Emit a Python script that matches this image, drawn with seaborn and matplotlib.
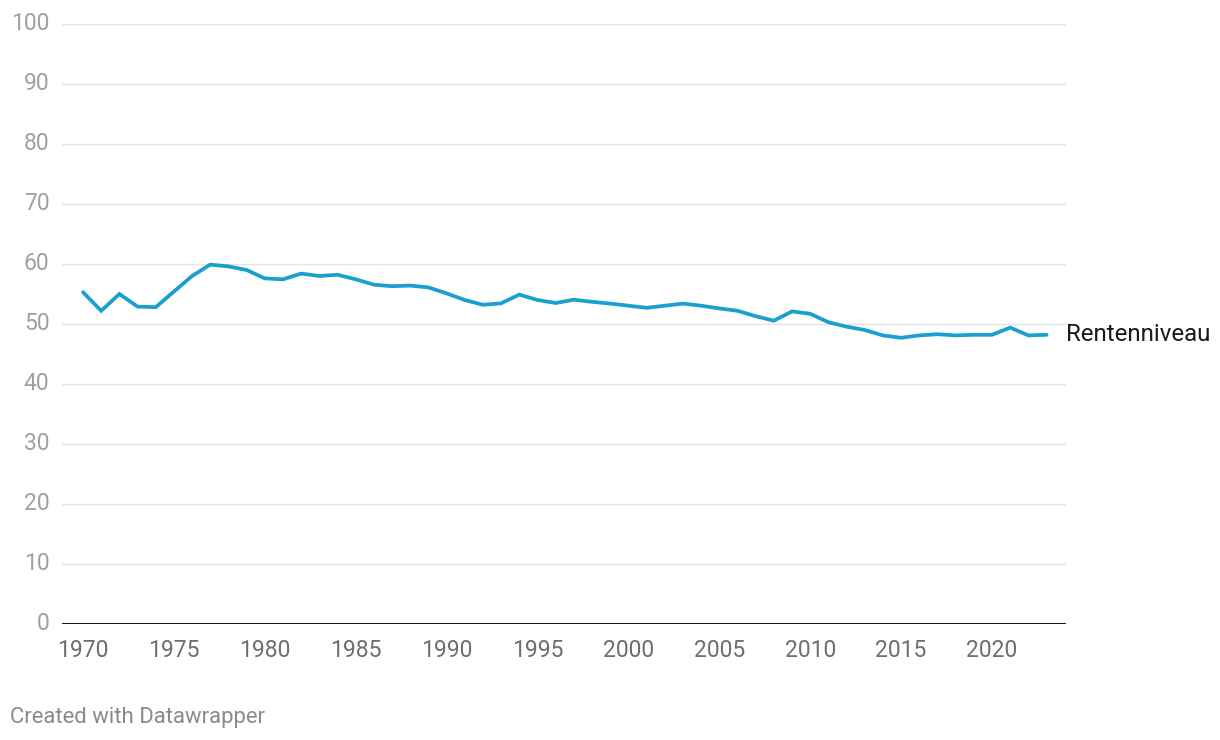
import matplotlib
matplotlib.use("Agg")
import matplotlib.pyplot as plt
import seaborn as sns
import pandas as pd

years = list(range(1970, 2024))
rentenniveau = [55.3, 52.2, 55.0, 52.9, 52.8, 55.4, 58.0, 59.9, 59.6, 59.0,
                57.6, 57.45, 58.4, 58.0, 58.2, 57.45, 56.55, 56.3, 56.4, 56.1,
                55.1, 54.0, 53.2, 53.45, 54.9, 54.0, 53.5, 54.05, 53.7, 53.4,
                53.05, 52.7, 53.05, 53.4, 53.05, 52.6, 52.2, 51.3, 50.55, 52.1,
                51.7, 50.3, 49.55, 49.0, 48.1, 47.7, 48.1, 48.3, 48.1, 48.2,
                48.2, 49.4, 48.1, 48.2]
series_label = "Rentenniveau"
y_ticks = list(range(0, 101, 10))
x_ticks = list(range(1970, 2021, 5))
credit = "Created with Datawrapper"

df = pd.DataFrame({"year": years, "value": rentenniveau})

sns.set_theme(style="white")
plt.rcParams["font.family"] = ["Roboto", "DejaVu Sans"]

fig = plt.figure(figsize=(12.2, 7.4), dpi=100)
ax = fig.add_axes([62 / 1220, 1 - 624 / 740, (1066 - 62) / 1220, 600 / 740])

sns.lineplot(data=df, x="year", y="value", ax=ax, color="#1aa0d0",
             linewidth=2.7, solid_joinstyle="miter", zorder=3)

ax.set_xlim(1968.845, 2024.07)
ax.set_ylim(0, 100)
ax.set_yticks(y_ticks)
ax.set_xticks(x_ticks)
ax.set_xticklabels([str(t) for t in x_ticks])
ax.set_yticklabels([str(t) for t in y_ticks])
for t in y_ticks:
    if t == 0:
        ax.axhline(t, color="#1a1a1a", linewidth=1.5, zorder=4)
    else:
        ax.axhline(t, color="#e3e3e3", linewidth=1.0, zorder=1)

for s in ax.spines.values():
    s.set_visible(False)
ax.set_xlabel("")
ax.set_ylabel("")
ax.tick_params(axis="y", length=0, pad=9, labelsize=16.5, labelcolor="#a0a0a0")
ax.tick_params(axis="x", length=0, pad=11, labelsize=16.5, labelcolor="#6e6e6e")
for lbl in ax.get_yticklabels():
    lbl.set_verticalalignment("center")

ax.text(1.0, rentenniveau[-1], series_label, transform=ax.get_yaxis_transform(),
        ha="left", va="center", fontsize=17.3, color="#1a1a1a", clip_on=False)

fig.text(10 / 1220, 1 - 717 / 740, credit, ha="left", va="center",
         fontsize=15.9, color="#8a8a8a")

fig.savefig("out.png", dpi=100)
